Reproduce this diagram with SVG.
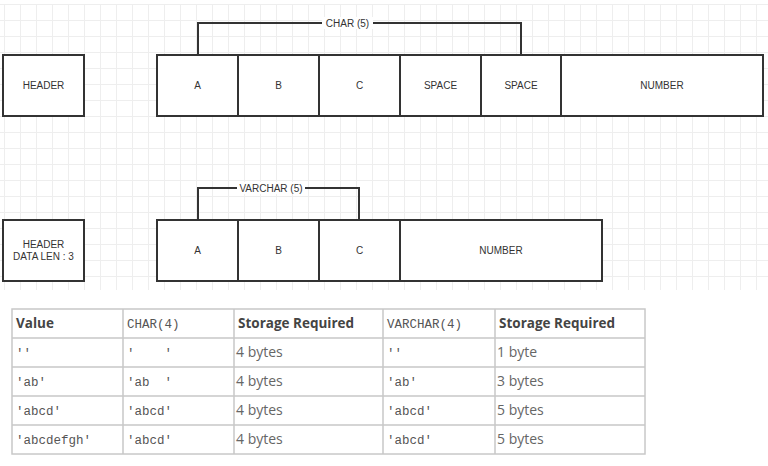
<svg xmlns="http://www.w3.org/2000/svg" width="768" height="466" viewBox="0 0 768 466">
<defs>
<pattern id="grid" x="4" y="4" width="16" height="16" patternUnits="userSpaceOnUse">
<path d="M0 0.5H16M0.5 0V16" fill="none" stroke="#eeeeee" stroke-width="1"/>
</pattern>
</defs>
<style>
.box{fill:#fff;stroke:#333;stroke-width:2}
.lbl{font-family:"Liberation Sans",Arial,sans-serif;font-size:10px;fill:#333;text-anchor:middle;dominant-baseline:central}
.wire{fill:none;stroke:#333;stroke-width:2}
.cell{fill:none;stroke:#c8c8c8;stroke-width:1.5}
.th{font-family:"Open Sans",sans-serif;font-size:13.5px;font-weight:bold;fill:#444}
.td{font-family:"Open Sans",sans-serif;font-size:14px;fill:#666}
.code{font-family:"Liberation Mono","Courier New",monospace;font-size:12.5px;fill:#555}
</style>
<rect width="768" height="466" fill="#fff"/>
<rect x="0" y="4" width="768" height="286" fill="url(#grid)"/>

<g id="connectors">
<path class="wire" d="M198 55V23H521V55"/>
<rect x="322" y="17" width="51" height="12" fill="#fff"/>
<text class="lbl" x="347.5" y="23">CHAR (5)</text>
<path class="wire" d="M198 220V188H359V220"/>
<rect x="237" y="182" width="68" height="12" fill="#fff"/>
<text class="lbl" x="271" y="188">VARCHAR (5)</text>
</g>

<g id="header1"><rect class="box" x="3" y="55" width="81" height="61"/><text class="lbl" x="43.5" y="85.5">HEADER</text></g>
<g id="c-a"><rect class="box" x="157" y="55" width="81" height="61"/><text class="lbl" x="197.5" y="85.5">A</text></g>
<g id="c-b"><rect class="box" x="238" y="55" width="81" height="61"/><text class="lbl" x="278.5" y="85.5">B</text></g>
<g id="c-c"><rect class="box" x="319" y="55" width="81" height="61"/><text class="lbl" x="359.5" y="85.5">C</text></g>
<g id="c-s1"><rect class="box" x="400" y="55" width="81" height="61"/><text class="lbl" x="440.5" y="85.5">SPACE</text></g>
<g id="c-s2"><rect class="box" x="481" y="55" width="80" height="61"/><text class="lbl" x="521" y="85.5">SPACE</text></g>
<g id="c-num"><rect class="box" x="561" y="55" width="202" height="61"/><text class="lbl" x="662" y="85.5">NUMBER</text></g>

<g id="header2"><rect class="box" x="3" y="220" width="81" height="61"/><text class="lbl" x="43.5" y="244.5">HEADER</text><text class="lbl" x="43.5" y="256">DATA LEN : 3</text></g>
<g id="v-a"><rect class="box" x="157" y="220" width="81" height="61"/><text class="lbl" x="197.5" y="250.5">A</text></g>
<g id="v-b"><rect class="box" x="238" y="220" width="81" height="61"/><text class="lbl" x="278.5" y="250.5">B</text></g>
<g id="v-c"><rect class="box" x="319" y="220" width="81" height="61"/><text class="lbl" x="359.5" y="250.5">C</text></g>
<g id="v-num"><rect class="box" x="400" y="220" width="202" height="61"/><text class="lbl" x="501" y="250.5">NUMBER</text></g>

<g id="table">
<rect class="cell" x="12" y="309" width="633" height="145"/>
<path class="cell" d="M12 338H645M12 367H645M12 396H645M12 425H645M123 309V454M234 309V454M383 309V454M495 309V454"/>
<text class="th" x="16" y="328">Value</text>
<text class="code" x="127" y="328">CHAR(4)</text>
<text class="th" x="238" y="328">Storage Required</text>
<text class="code" x="387" y="328">VARCHAR(4)</text>
<text class="th" x="499" y="328">Storage Required</text>

<text class="code" x="16" y="357" xml:space="preserve">''</text>
<text class="code" x="127" y="357" xml:space="preserve">'    '</text>
<text class="td" x="236" y="357">4 bytes</text>
<text class="code" x="387" y="357" xml:space="preserve">''</text>
<text class="td" x="497" y="357">1 byte</text>

<text class="code" x="16" y="386">'ab'</text>
<text class="code" x="127" y="386" xml:space="preserve">'ab  '</text>
<text class="td" x="236" y="386">4 bytes</text>
<text class="code" x="387" y="386">'ab'</text>
<text class="td" x="497" y="386">3 bytes</text>

<text class="code" x="16" y="415">'abcd'</text>
<text class="code" x="127" y="415">'abcd'</text>
<text class="td" x="236" y="415">4 bytes</text>
<text class="code" x="387" y="415">'abcd'</text>
<text class="td" x="497" y="415">5 bytes</text>

<text class="code" x="16" y="444">'abcdefgh'</text>
<text class="code" x="127" y="444">'abcd'</text>
<text class="td" x="236" y="444">4 bytes</text>
<text class="code" x="387" y="444">'abcd'</text>
<text class="td" x="497" y="444">5 bytes</text>
</g>
</svg>
